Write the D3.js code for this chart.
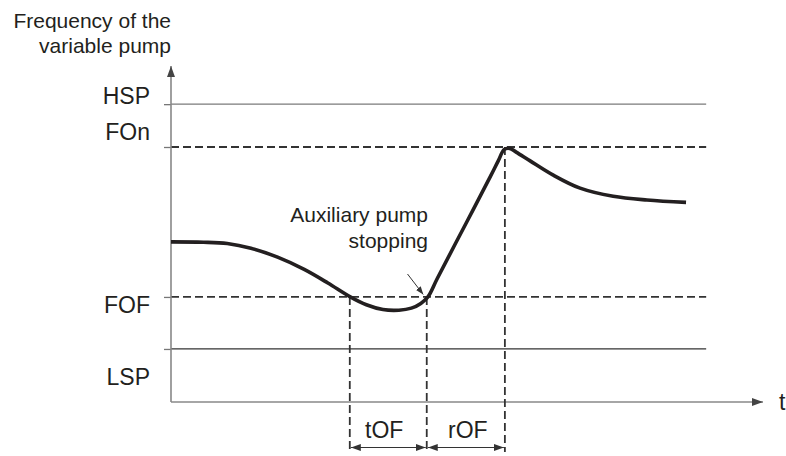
<!DOCTYPE html>
<html>
<head>
<meta charset="utf-8">
<script src="https://cdn.jsdelivr.net/npm/d3@7"></script>
<style>
  html, body { margin: 0; padding: 0; background: #fff; }
  text { font-family: "Liberation Sans", Arial, sans-serif; fill: #231f20; }
</style>
</head>
<body>
<svg id="chart" width="786" height="456"></svg>
<script>
// ---- data ----
const levelNames = ["HSP", "FOn", "FOF", "LSP"];
const levelValues = [87.6, 75, 30.9, 15.6];
const curveT = [0, 5.5, 9.5, 13.5, 18.0, 22.5, 26.5, 30.2, 33.0, 35.8, 38.5, 40.6, 42.2, 43.4, 45.0, 50.0, 54.0, 55.3, 56.3, 57.2, 58.3, 60.6, 64.5, 69.1, 74.7, 80.4, 87.0];
const curveF = [47.1, 47.0, 46.6, 45.2, 42.6, 39.0, 35.0, 31.0, 28.6, 27.2, 27.0, 27.6, 29.0, 30.9, 36.4, 53.1, 66.5, 71.0, 74.3, 74.6, 73.5, 71.0, 66.8, 62.9, 60.5, 59.4, 58.7];
const markerT = [30.2, 43.2, 56.4];       // tOF start, stop of aux pump, end of rOF
const intervalLabels = ["tOF", "rOF"];
const yTitle = ["Frequency of the", "variable pump"];
const xTitle = "t";
const noteLines = ["Auxiliary pump", "stopping"];

// ---- scales ----
const svg = d3.select("#chart");
const x = d3.scaleLinear().domain([0, 100]).range([171, 763]);
const y = d3.scaleLinear().domain([0, 100]).range([402, 62]);
const xEndLines = 90.4;
const yTop = 98.8;
const ink = "#231f20";

const defs = svg.append("defs");
function arrowMarker(id, w, h, color) {
  defs.append("marker").attr("id", id)
    .attr("viewBox", `0 0 ${w} ${h}`).attr("refX", w).attr("refY", h / 2)
    .attr("markerWidth", w).attr("markerHeight", h).attr("markerUnits", "userSpaceOnUse")
    .attr("orient", "auto-start-reverse")
    .append("path").attr("d", `M0,0L${w},${h/2}L0,${h}Z`).attr("fill", color);
}
arrowMarker("axArrow", 11, 8, "#444");
arrowMarker("dimArrow", 10, 7, "#333");
arrowMarker("noteArrow", 8, 6, "#333");

// ---- level lines ----
const lineStyle = {
  HSP: { stroke: "#7a7a7a", dash: null, w: 1.3 },
  FOn: { stroke: "#333", dash: "8,4", w: 1.8 },
  FOF: { stroke: "#333", dash: "8,4", w: 1.8 },
  LSP: { stroke: "#333", dash: null, w: 1.3 }
};
levelNames.forEach((n, i) => {
  const s = lineStyle[n];
  svg.append("line")
    .attr("x1", x(0)).attr("x2", x(xEndLines))
    .attr("y1", y(levelValues[i])).attr("y2", y(levelValues[i]))
    .attr("stroke", s.stroke).attr("stroke-width", s.w)
    .attr("stroke-dasharray", s.dash);
});

// ---- axes ----
const yAxis = d3.axisLeft(y).tickValues(levelValues).tickSize(7).tickFormat("");
const gy = svg.append("g").attr("transform", `translate(${x(0)},0)`).call(yAxis);
gy.select(".domain").remove();
gy.selectAll(".tick line").attr("stroke", "#777").attr("stroke-width", 1.3);

svg.append("line").attr("x1", x(0)).attr("x2", x(0))
  .attr("y1", y(0)).attr("y2", y(yTop))
  .attr("stroke", "#888").attr("stroke-width", 1.6)
  .attr("marker-end", "url(#axArrow)");
svg.append("line").attr("x1", x(0)).attr("x2", x(100))
  .attr("y1", y(0)).attr("y2", y(0))
  .attr("stroke", "#888").attr("stroke-width", 1.6)
  .attr("marker-end", "url(#axArrow)");

// level labels
const labelDy = { HSP: 0, FOn: -7, FOF: 16, LSP: 36 };
levelNames.forEach((n, i) => {
  svg.append("text").attr("x", 150).attr("y", y(levelValues[i]) + labelDy[n])
    .attr("text-anchor", "end").attr("font-size", 23).text(n);
});

// axis titles
svg.append("text").attr("x", 171).attr("y", 28).attr("text-anchor", "end")
  .attr("font-size", 21).text(yTitle[0]);
svg.append("text").attr("x", 171).attr("y", 53).attr("text-anchor", "end")
  .attr("font-size", 21).text(yTitle[1]);
svg.append("text").attr("x", 779).attr("y", 410).attr("font-size", 23).text(xTitle);

// ---- vertical markers ----
const markerTop = [levelValues[2], levelValues[2], levelValues[1]];
markerT.forEach((t, i) => {
  svg.append("line").attr("x1", x(t)).attr("x2", x(t))
    .attr("y1", y(markerTop[i])).attr("y2", 452)
    .attr("stroke", "#333").attr("stroke-width", 1.8).attr("stroke-dasharray", "8,4");
});

// dimension arrows
for (let i = 0; i < 2; i++) {
  svg.append("line").attr("x1", x(markerT[i]) + 1).attr("x2", x(markerT[i + 1]) - 1)
    .attr("y1", 447.5).attr("y2", 447.5)
    .attr("stroke", "#333").attr("stroke-width", 1.2)
    .attr("marker-start", "url(#dimArrow)").attr("marker-end", "url(#dimArrow)");
  svg.append("text").attr("x", (x(markerT[i]) + x(markerT[i + 1])) / 2 - (i === 0 ? 4 : -2))
    .attr("y", 438).attr("text-anchor", "middle").attr("font-size", 23)
    .text(intervalLabels[i]);
}

// ---- frequency curve ----
const pts = curveT.map((t, i) => [t, curveF[i]]);
svg.append("path").datum(pts)
  .attr("d", d3.line().x(d => x(d[0])).y(d => y(d[1])).curve(d3.curveCatmullRom.alpha(0.5)))
  .attr("fill", "none").attr("stroke", ink).attr("stroke-width", 3.6)
  .attr("stroke-linejoin", "round").attr("stroke-linecap", "butt");

// ---- annotation ----
svg.append("text").attr("x", 428).attr("y", 222).attr("text-anchor", "end")
  .attr("font-size", 21).text(noteLines[0]);
svg.append("text").attr("x", 428).attr("y", 248).attr("text-anchor", "end")
  .attr("font-size", 21).text(noteLines[1]);
svg.append("line").attr("x1", 407.5).attr("y1", 274)
  .attr("x2", x(markerT[1]) - 3.5).attr("y2", y(levelValues[2]) - 2.5)
  .attr("stroke", "#333").attr("stroke-width", 1)
  .attr("marker-end", "url(#noteArrow)");
</script>
</body>
</html>
